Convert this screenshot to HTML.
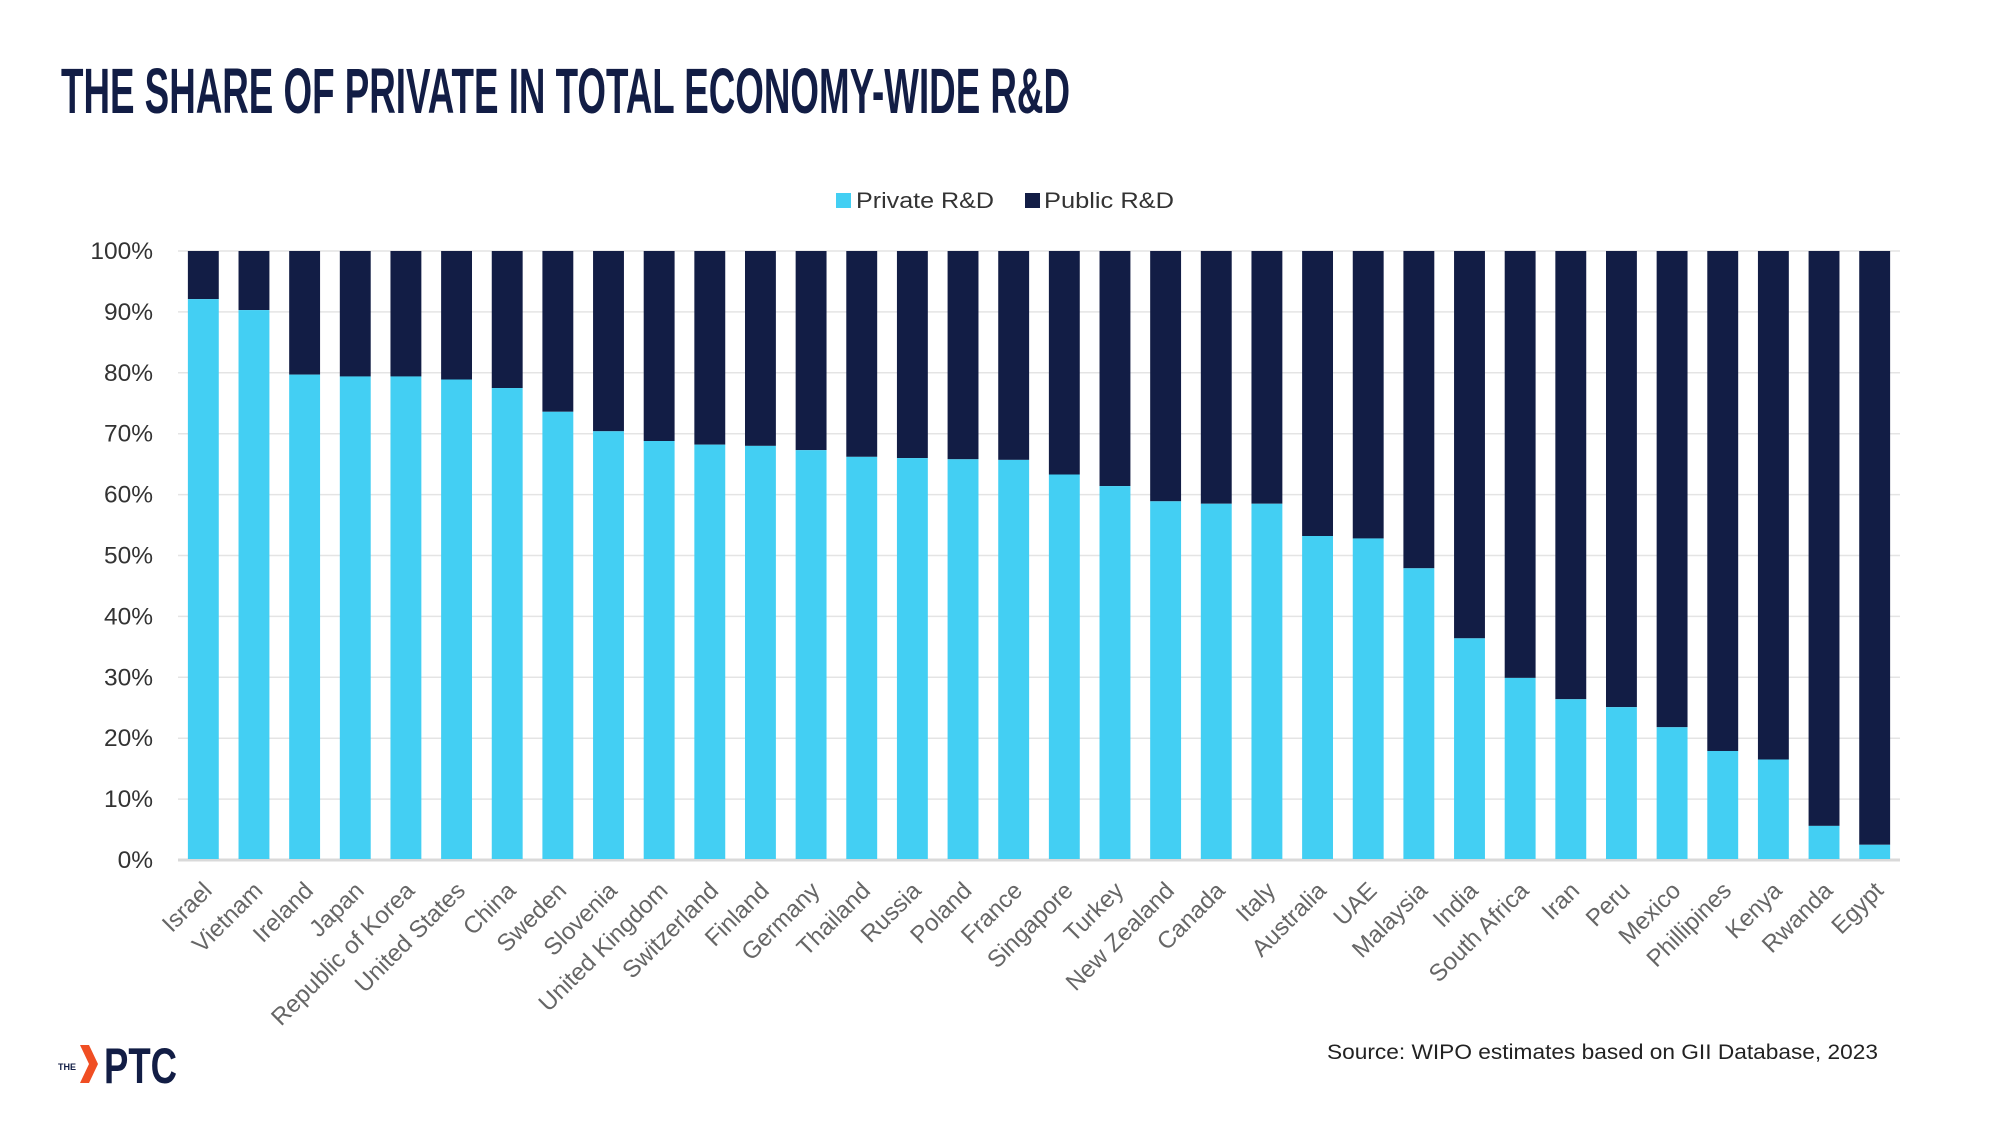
<!DOCTYPE html>
<html><head><meta charset="utf-8"><style>
html,body{margin:0;padding:0;background:#fff;}
body{width:2000px;height:1133px;overflow:hidden;font-family:"Liberation Sans",sans-serif;}
</style></head><body>
<svg id="chart" width="2000" height="1133" xmlns="http://www.w3.org/2000/svg">
<text x="61" y="113" font-family="Liberation Sans Narrow, Liberation Sans, sans-serif" font-weight="bold" font-size="64" fill="#121d45" textLength="1009" lengthAdjust="spacingAndGlyphs">THE SHARE OF PRIVATE IN TOTAL ECONOMY-WIDE R&amp;D</text>
<g font-size="22" fill="#333">
<rect x="836" y="193" width="15" height="15" fill="#43cff3"/>
<text x="856" y="208" textLength="138" lengthAdjust="spacingAndGlyphs">Private R&amp;D</text>
<rect x="1025" y="193" width="15" height="15" fill="#121d45"/>
<text x="1044" y="208" textLength="130" lengthAdjust="spacingAndGlyphs">Public R&amp;D</text>
</g>
<g id="grid"></g><g id="bars"></g><g id="ylabels"></g><g id="xlabels"></g>
<text x="1327" y="1059" font-size="21" fill="#222" textLength="551" lengthAdjust="spacingAndGlyphs">Source: WIPO estimates based on GII Database, 2023</text>
<g>
<text x="58" y="1070" font-size="9" font-weight="bold" fill="#121d45">THE</text>
<polygon points="80,1045 89,1045 98,1064 89,1083 80,1083 89,1064" fill="#f04e23"/>
<text x="104" y="1083" font-family="Liberation Sans Narrow, Liberation Sans, sans-serif" font-weight="bold" font-size="50" fill="#121d45" textLength="73" lengthAdjust="spacingAndGlyphs">PTC</text>
</g>
</svg>
<script>
const categories=["Israel","Vietnam","Ireland","Japan","Republic of Korea","United States","China","Sweden","Slovenia","United Kingdom","Switzerland","Finland","Germany","Thailand","Russia","Poland","France","Singapore","Turkey","New Zealand","Canada","Italy","Australia","UAE","Malaysia","India","South Africa","Iran","Peru","Mexico","Phillipines","Kenya","Rwanda","Egypt"];
const privateShare=[92.1,90.3,79.7,79.4,79.4,78.9,77.5,73.6,70.4,68.8,68.2,68.0,67.3,66.2,66.0,65.8,65.7,63.3,61.4,58.9,58.5,58.5,53.2,52.8,47.9,36.4,29.9,26.4,25.1,21.8,17.9,16.5,5.6,2.5];
const yTicks=[0,10,20,30,40,50,60,70,80,90,100];
const yTickLabels=["0%","10%","20%","30%","40%","50%","60%","70%","80%","90%","100%"];
const NS="http://www.w3.org/2000/svg";
const X0=178,X1=1900,Y0=860,Y1=251;
const band=(X1-X0)/categories.length, bw=band*0.61;
const y=v=>Y0-(v/100)*(Y0-Y1);
const xc=i=>X0+band*(i+0.5);
function mk(t,a,p){const e=document.createElementNS(NS,t);for(const k in a)e.setAttribute(k,a[k]);p.appendChild(e);return e;}
const grid=document.getElementById('grid'),bars=document.getElementById('bars'),yl=document.getElementById('ylabels'),xl=document.getElementById('xlabels');
yTicks.forEach((t,i)=>{
 const l=mk('line',{x1:X0,x2:X1,y1:y(t),y2:y(t),stroke:t===0?'#d9d9d9':'#e4e4e4','stroke-width':t===0?3:1.5},grid);
 
 
 const tx=mk('text',{x:153,y:y(t)+8,'text-anchor':'end','font-size':24.5,fill:'#333'},yl);
 tx.textContent=yTickLabels[i];
 
 
});
categories.forEach((c,i)=>{
 const x=xc(i)-bw/2;
 const pub=mk('rect',{x:x,y:y(100),width:bw,height:y(privateShare[i])-y(100),fill:'#121d45'},bars);
 
 
 const pr=mk('rect',{x:x,y:y(privateShare[i]),width:bw,height:Y0-1-y(privateShare[i]),fill:'#43cff3'},bars);
 
 
 const t=mk('text',{x:0,y:0,'text-anchor':'end','font-size':24,fill:'#666',transform:`translate(${xc(i)+10},${892}) rotate(-45)`},xl);
 t.textContent=c;
 
 
});
</script>
</body></html>
